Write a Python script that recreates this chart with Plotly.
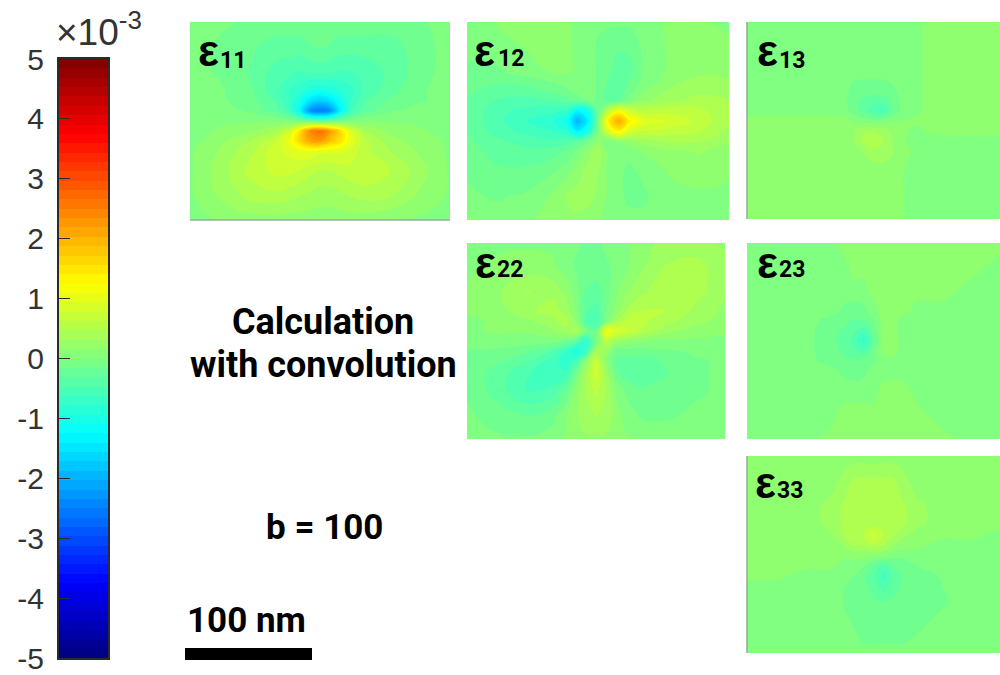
import plotly.graph_objects as go
import numpy as np

# Node positions (nm from each panel's centre) of the strain values
X_NM = [-102, -79, -55, -35, -24, -16, -8, 0, 8, 16, 24, 35, 55, 79, 102]
Y_NM = [-78, -59, -39, -24, -16, -8, 0, 8, 16, 24, 39, 59, 78]

# strain fields, in units of 1e-3 (rows top to bottom)
E11 = [
 [0,-.05,-.1,-.15,-.15,-.15,-.1,-.1,-.1,-.15,-.15,-.15,-.15,-.1,0],
 [0,-.1,-.2,-.3,-.3,-.3,-.25,-.2,-.25,-.3,-.3,-.3,-.3,-.15,0],
 [0,-.1,-.25,-.45,-.5,-.55,-.5,-.5,-.5,-.55,-.55,-.5,-.35,-.15,0],
 [0,-.05,-.2,-.5,-.7,-.8,-.95,-1,-.95,-.85,-.75,-.5,-.3,-.1,0],
 [0,-.05,-.15,-.4,-.7,-1,-1.5,-1.7,-1.5,-1.1,-.7,-.4,-.2,-.1,0],
 [0,0,-.1,-.3,-.6,-1.2,-2.3,-2.6,-2.3,-1.3,-.6,-.3,-.1,0,0],
 [0,.05,.05,.05,0,-.1,-.2,-.3,-.2,-.1,0,.05,.05,.05,0],
 [0,.1,.2,.4,.8,1.5,2.4,2.7,2.2,1.6,.9,.4,.2,.1,0],
 [0,.2,.4,.7,1.1,1.6,2.1,2.2,1.8,1.5,1.0,.6,.3,.15,.05],
 [.05,.25,.5,.8,.9,1.0,1.0,.9,.9,.9,.8,.6,.4,.2,.05],
 [.05,.3,.6,.75,.75,.7,.6,.55,.55,.6,.65,.7,.55,.3,.05],
 [.05,.25,.45,.5,.45,.4,.35,.3,.3,.35,.4,.45,.4,.2,.05],
 [0,.1,.15,.15,.15,.15,.15,.15,.15,.15,.15,.15,.1,.05,0],
]
E12 = [
 [0,.1,.15,.15,.1,.05,0,-.05,-.05,-.05,-.05,0,.1,.1,.05],
 [-.05,0,.1,.15,.1,.05,0,-.1,-.15,-.2,-.2,-.05,.1,.15,.1],
 [-.1,-.1,0,.1,.1,.05,0,-.1,-.2,-.35,-.3,-.05,.1,.2,.2],
 [-.2,-.3,-.3,-.2,-.1,0,0,-.1,-.3,-.35,-.15,.05,.25,.35,.3],
 [-.25,-.4,-.45,-.4,-.3,-.2,-.05,-.1,-.3,-.25,0,.2,.35,.45,.4],
 [-.25,-.5,-.6,-.65,-.75,-1.3,-1.1,-.2,.6,1.2,.8,.6,.65,.6,.4],
 [-.25,-.5,-.7,-.85,-1.1,-2.0,-1.4,-.1,1.4,2.1,1.4,1,.85,.65,.4],
 [-.25,-.45,-.6,-.7,-.85,-1.4,-1.0,0,.9,1.4,.9,.7,.65,.55,.35],
 [-.2,-.35,-.45,-.5,-.45,-.3,-.1,.15,-.05,.1,.2,.3,.4,.4,.25],
 [-.15,-.3,-.35,-.3,-.2,-.05,.15,.4,0,-.05,-.05,.1,.2,.25,.15],
 [-.1,-.2,-.2,-.1,0,.15,.3,.25,.05,-.05,-.1,-.05,.1,.15,.1],
 [-.05,-.1,-.05,.1,.25,.3,.3,.2,.05,-.05,-.1,-.1,0,.05,.05],
 [0,0,.05,.15,.2,.2,.15,.1,0,-.05,-.05,-.05,-.05,0,0],
]
E13 = [
 [0,0,0,0,0,0,0,0,0,0,0,.05,.18,.18,.18],
 [0,0,0,0,0,0,0,0,0,0,0,.05,.18,.18,.18],
 [0,0,0,0,0,0,0,0,0,0,0,.05,.18,.18,.18],
 [0,0,0,0,0,-.15,-.18,-.18,-.18,-.1,0,.05,.18,.18,.18],
 [0,0,0,0,0,-.2,-.25,-.3,-.28,-.2,0,.05,.18,.18,.18],
 [0,0,0,0,0,-.15,-.3,-.5,-.55,-.2,0,.05,.18,.18,.18],
 [.15,.15,.15,.15,.15,.05,0,-.05,0,.05,.08,.1,.15,.15,.15],
 [.15,.15,.15,.15,.15,.2,.35,.35,.3,.2,.1,.05,.15,.15,.15],
 [.15,.15,.15,.15,.15,.25,.45,.55,.4,.2,.1,0,0,0,0],
 [.15,.15,.15,.15,.15,.18,.25,.35,.35,.25,.12,.05,0,0,0],
 [.15,.15,.15,.15,.15,.15,.15,.15,.15,.15,.08,0,0,0,0],
 [.15,.15,.15,.15,.15,.15,.15,.15,.15,.15,.08,0,0,0,0],
 [.15,.15,.15,.15,.15,.15,.15,.15,.15,.15,.08,0,0,0,0],
]
E22 = [
 [.05,.05,.05,.05,-.05,-.05,-.1,-.1,-.05,0,.05,.15,.3,.3,.2],
 [.05,.1,.15,.1,0,-.1,-.15,-.15,-.1,-.05,.05,.2,.4,.45,.3],
 [.1,.2,.4,.35,.2,0,-.25,-.3,-.15,.05,.2,.35,.5,.45,.25],
 [.1,.15,.35,.45,.35,.05,-.35,-.45,-.1,.15,.4,.55,.55,.35,.2],
 [.05,.1,.2,.35,.45,.2,-.45,-.55,-.05,.4,.6,.6,.45,.3,.15],
 [.05,.1,.1,.2,.35,.45,-.1,-.2,1.1,.9,.75,.55,.3,.15,.1],
 [0,0,0,0,-.1,-.3,-.8,-.1,.6,.3,.2,.1,.05,.05,.05],
 [-.1,-.1,-.2,-.4,-.7,-1.05,-.7,.4,.3,-.2,-.15,-.15,-.1,-.05,0],
 [-.1,-.2,-.35,-.6,-.8,-.6,.1,.7,.1,-.25,-.3,-.35,-.2,-.1,-.05],
 [-.1,-.3,-.5,-.7,-.7,-.2,.35,.8,.3,-.2,-.35,-.4,-.25,-.1,-.05],
 [-.1,-.3,-.55,-.5,-.25,.1,.4,.6,.4,.05,-.1,-.2,-.2,-.1,-.05],
 [-.05,-.15,-.25,-.15,.05,.2,.35,.4,.35,.15,0,-.1,-.1,-.05,0],
 [-.05,-.05,-.05,0,.1,.15,.2,.2,.2,.15,.1,.05,0,0,0],
]
E23 = [
 [0,0,0,0,.15,.15,.15,.15,.15,.15,.15,.15,.15,.15,.15],
 [0,0,0,0,0,.15,.15,.15,.15,.15,.15,.15,.15,.15,0],
 [0,0,0,0,0,0,0,.15,.15,.15,.15,.15,.15,0,0],
 [0,0,0,0,-.12,-.15,-.12,0,.15,.15,.15,0,0,0,0],
 [0,0,0,-.15,-.2,-.25,-.25,-.1,.15,.15,0,0,0,0,0],
 [0,0,0,-.2,-.25,-.35,-.5,-.2,.15,.15,0,0,0,0,0],
 [0,0,0,-.22,-.25,-.45,-.75,-.3,.15,.15,0,0,0,0,0],
 [0,0,0,-.2,-.25,-.35,-.45,-.12,.15,.15,0,0,0,0,0],
 [0,0,0,-.15,-.2,-.2,-.15,-.1,0,0,0,0,0,0,0],
 [0,0,0,0,-.12,-.15,-.12,0,0,0,0,0,0,0,0],
 [0,0,0,0,0,0,0,0,.15,.15,.15,0,0,0,0],
 [0,0,0,0,.15,.15,.15,.15,.15,.15,.15,.15,0,0,0],
 [0,0,0,.15,.15,.15,.15,.15,.15,.15,.15,.15,.15,0,0],
]
E33 = [
 [.15,.15,.15,.15,.15,.15,.15,.15,.15,.15,.15,.15,.15,.15,.15],
 [.15,.15,.15,.15,.28,.42,.42,.42,.42,.42,.28,.15,.15,.15,.15],
 [.15,.15,.15,.28,.42,.42,.42,.42,.42,.42,.42,.28,.15,.15,.15],
 [.15,.15,.15,.28,.42,.42,.42,.5,.42,.42,.42,.28,.15,.15,.15],
 [.15,.15,.15,.2,.42,.42,.55,.75,.55,.42,.3,.15,.15,.15,0],
 [.15,.15,.15,.15,.25,.42,.42,.55,.42,.25,.15,.15,0,0,0],
 [.15,.15,.15,.15,.15,.15,.15,.15,.15,0,0,0,0,0,0],
 [.15,.15,.15,.15,0,0,-.05,-.2,-.4,-.2,-.2,-.05,0,0,0],
 [.15,.15,0,0,0,-.05,-.2,-.35,-.6,-.35,-.2,-.2,-.05,0,0],
 [0,0,0,0,-.05,-.2,-.2,-.3,-.5,-.3,-.2,-.2,-.08,0,0],
 [0,0,0,0,-.08,-.2,-.2,-.2,-.2,-.2,-.2,-.2,-.1,0,0],
 [0,0,0,0,0,-.06,-.2,-.2,-.2,-.2,-.2,-.1,0,0,0],
 [0,0,0,0,0,0,0,0,0,0,0,0,0,0,0],
]
FIELDS = [E11, E12, E13, E22, E23, E33]
FIELD_NAMES = ["11", "12", "13", "22", "23", "33"]
CBAR_TICKS = [-5, -4, -3, -2, -1, 0, 1, 2, 3, 4, 5]
CBAR_TICK_TEXT = ["-5", "-4", "-3", "-2", "-1", "0", "1", "2", "3", "4", "5"]
TEXT_LINES = ["Calculation", "with convolution"]
B_TEXT = "b = 100"
SCALE_TEXT = "100 nm"

W, H = 1000, 675
# panel boxes in pixels: left, right, top, bottom
BOXES = [(190, 450, 22, 220), (467, 729, 22, 220), (747, 1000, 22, 219),
         (467, 725, 243, 439), (747, 1000, 243, 439), (747, 1000, 456, 653)]
LABEL_POS = [(196, 218, 50, 60), (472, 496, 50, 59), (755, 777, 50, 60),
             (473, 495, 262, 269), (755, 777, 262, 269), (753, 775, 482, 490)]

# MATLAB jet: continuous for the fields, 64 levels for the colour bar
def jet(t):
    r = np.clip(1.5 - abs(4 * t - 3), 0, 1)
    g = np.clip(1.5 - abs(4 * t - 2), 0, 1)
    b = np.clip(1.5 - abs(4 * t - 1), 0, 1)
    return f"rgb({int(r*255)},{int(g*255)},{int(b*255)})"

N = 64
stepped = []
for k in range(N):
    c = jet((k + 0.5) / N)
    stepped.append([k / N, c])
    stepped.append([(k + 1) / N, c])
smooth = [[t, jet(t)] for t in (0, .125, .375, .625, .875, 1)]
STEP = 10 / N

fig = go.Figure()
layout = dict(
    template="none",
    width=W, height=H, margin=dict(l=0, r=0, t=0, b=0, pad=0),
    paper_bgcolor="white", plot_bgcolor="white", showlegend=False,
    font=dict(family="Liberation Sans", color="black"),
)
annotations = []

def dom_x(a, b):
    return [a / W, b / W]

def dom_y(a, b):
    return [1 - b / H, 1 - a / H]

for i, (z, box) in enumerate(zip(FIELDS, BOXES)):
    n = i + 1
    suffix = "" if n == 1 else str(n)
    fig.add_trace(go.Contour(x=X_NM, y=Y_NM, z=z, colorscale=smooth, zmin=-5, zmax=5, zauto=False,
                             showscale=False, autocontour=False,
                             contours=dict(coloring="fill", start=-5 - STEP / 2, end=5, size=STEP, showlines=False),
                             line=dict(width=0, smoothing=1.3),
                             xaxis="x" + suffix, yaxis="y" + suffix, hoverinfo="skip"))
    l, r, t, b = box
    layout["xaxis" + suffix] = dict(domain=dom_x(l, r), range=[X_NM[0], X_NM[-1]],
                                    visible=False, anchor="y" + suffix, automargin=False)
    layout["yaxis" + suffix] = dict(domain=dom_y(t, b), range=[Y_NM[-1], Y_NM[0]],
                                    visible=False, anchor="x" + suffix, automargin=False)
    ex, sx, ey, sy = LABEL_POS[i]
    annotations.append(dict(text="<b>ε</b>", x=ex / W, y=1 - ey / H, xref="paper", yref="paper",
                            xanchor="left", yanchor="middle", showarrow=False,
                            font=dict(family="Liberation Sans", size=44, color="black")))
    annotations.append(dict(text="<b>" + FIELD_NAMES[i] + "</b>", x=sx / W, y=1 - sy / H, xref="paper",
                            yref="paper", xanchor="left", yanchor="middle", showarrow=False,
                            font=dict(family="Roboto", size=23, color="black")))

# colour bar: built as its own axis so the tick labels sit to its left
levels = [[-5 + (k + 0.5) * STEP] for k in range(N)]
edges = [-5 + k * STEP for k in range(N + 1)]
fig.add_trace(go.Heatmap(x=[0, 1], y=edges, z=levels, colorscale=stepped, zmin=-5, zmax=5, showscale=False,
                         xaxis="x7", yaxis="y7", hoverinfo="skip"))
layout["xaxis7"] = dict(domain=dom_x(59, 108), range=[0, 1], anchor="y7", showticklabels=False,
                        ticks="", showline=True, linecolor="#2b2b2b", linewidth=2, mirror=True,
                        showgrid=False, zeroline=False, automargin=False)
layout["yaxis7"] = dict(domain=dom_y(59, 658), range=[-5, 5], anchor="x7", side="left",
                        tickmode="array", tickvals=CBAR_TICKS, ticktext=CBAR_TICK_TEXT,
                        ticks="inside", ticklen=11, tickwidth=1.2, tickcolor="#2b2b2b",
                        ticklabelstandoff=7,
                        tickfont=dict(family="Liberation Sans", size=30, color="#333333"),
                        showline=True, linecolor="#2b2b2b", linewidth=2, mirror=True,
                        showgrid=False, zeroline=False, automargin=False)
annotations.append(dict(text="×10<sup>-3</sup>", x=54 / W, y=1 - 30 / H, xref="paper", yref="paper",
                        xanchor="left", yanchor="middle", showarrow=False,
                        font=dict(family="Liberation Sans", size=37, color="#333333")))

# centred texts
for txt, cx, cy, size in [(TEXT_LINES[0], 323, 322, 36), (TEXT_LINES[1], 323, 365, 36),
                          (B_TEXT, 324, 527, 35), (SCALE_TEXT, 246, 620, 35)]:
    annotations.append(dict(text="<b>" + txt + "</b>", x=cx / W, y=1 - cy / H, xref="paper", yref="paper",
                            xanchor="center", yanchor="middle", showarrow=False,
                            font=dict(family="Roboto", size=size, color="black")))

layout["annotations"] = annotations
# scale bar: 127 px for 100 nm; plus the thin grey edges some panels show
shapes = [dict(type="rect", xref="paper", yref="paper", x0=185 / W, x1=312 / W,
               y0=1 - 660 / H, y1=1 - 648 / H, fillcolor="black", line_width=0)]
for x0, y0, x1, y1 in [(190, 220, 450, 220), (747, 22, 747, 219), (747, 456, 747, 653)]:
    shapes.append(dict(type="line", xref="paper", yref="paper", x0=x0 / W, x1=x1 / W,
                       y0=1 - y0 / H, y1=1 - y1 / H, line=dict(color="#8fae8f", width=1.5)))
layout["shapes"] = shapes
fig.update_layout(**layout)
fig.write_html("out.html", config={"displayModeBar": False},
               post_script="document.body.style.margin='0';")
